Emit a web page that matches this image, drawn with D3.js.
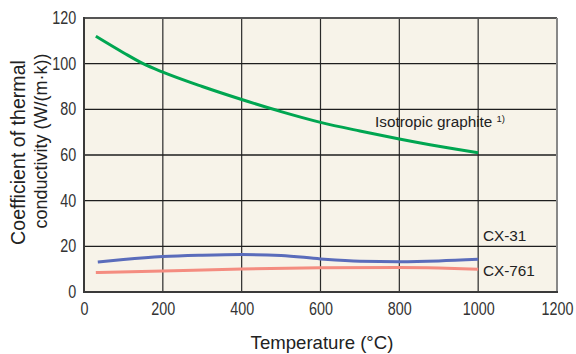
<!DOCTYPE html>
<html>
<head>
<meta charset="utf-8">
<script src="https://cdn.jsdelivr.net/npm/d3@7"></script>
<style>
  html, body { margin: 0; padding: 0; background: #ffffff; }
  svg { display: block; }
  .tick-label { font-family: "Liberation Sans", Arial, Helvetica, sans-serif; font-size: 17.5px; fill: #333; }
  .title { font-family: "Liberation Sans", Arial, Helvetica, sans-serif; font-size: 18.6px; fill: #222; }
  .series-label { font-family: "Liberation Sans", Arial, Helvetica, sans-serif; font-size: 15.3px; fill: #222; }
</style>
</head>
<body>
<svg id="chart" width="576" height="354"></svg>
<script>
// Thermal conductivity vs temperature
const xTicks = [0, 200, 400, 600, 800, 1000, 1200];
const yTicks = [0, 20, 40, 60, 80, 100, 120];

const graphiteTemp = [30, 100, 150, 200, 300, 400, 500, 600, 700, 800, 900, 1000];
const graphiteK    = [112, 104.8, 100, 96.3, 90, 84.3, 79, 74.3, 70.5, 67, 63.8, 61];

const cx31Temp = [35, 100, 200, 300, 400, 500, 600, 700, 800, 900, 1000];
const cx31K    = [13.1, 14.2, 15.5, 16.1, 16.4, 16.0, 14.5, 13.5, 13.3, 13.6, 14.3];

const cx761Temp = [30, 200, 400, 600, 800, 900, 1000];
const cx761K    = [8.5, 9.2, 10.1, 10.6, 10.7, 10.5, 10.0];

const seriesNames = ["Isotropic graphite", "CX-31", "CX-761"];
const seriesColors = ["#00a651", "#5a6cbb", "#f48c80"];

const svg = d3.select("#chart");
const plotL = 84, plotR = 557, plotT = 18, plotB = 292;

const x = d3.scaleLinear().domain([0, 1200]).range([plotL, plotR]);
const y = d3.scaleLinear().domain([0, 120]).range([plotB, plotT]);

// plot background
svg.append("rect")
  .attr("x", plotL).attr("y", plotT)
  .attr("width", plotR - plotL).attr("height", plotB - plotT)
  .attr("fill", "#f7f3e9");

// vertical grid lines
svg.append("g")
  .selectAll("line")
  .data(xTicks.filter(d => d > 0 && d < 1200))
  .join("line")
  .attr("x1", d => x(d)).attr("x2", d => x(d))
  .attr("y1", plotT).attr("y2", plotB)
  .attr("stroke", "#2a2a2a").attr("stroke-width", 1.2);

// horizontal grid lines
svg.append("g")
  .selectAll("line")
  .data(yTicks.filter(d => d > 0 && d < 120))
  .join("line")
  .attr("x1", plotL).attr("x2", plotR)
  .attr("y1", d => y(d)).attr("y2", d => y(d))
  .attr("stroke", "#1e1e1e").attr("stroke-width", 1.3);

// frame: top and right lighter, left and bottom darker
svg.append("line").attr("x1", plotL).attr("x2", plotR).attr("y1", plotT).attr("y2", plotT)
  .attr("stroke", "#555").attr("stroke-width", 2);
svg.append("line").attr("x1", plotR).attr("x2", plotR).attr("y1", plotT).attr("y2", plotB)
  .attr("stroke", "#888").attr("stroke-width", 2);
svg.append("line").attr("x1", plotL).attr("x2", plotL).attr("y1", plotT - 1).attr("y2", plotB + 1)
  .attr("stroke", "#3a3a3a").attr("stroke-width", 2);
svg.append("line").attr("x1", plotL - 1).attr("x2", plotR + 1).attr("y1", plotB).attr("y2", plotB)
  .attr("stroke", "#3a3a3a").attr("stroke-width", 2);

// axes (labels only); tick numerals are drawn horizontally condensed
const condense = 0.82;

const xAxis = d3.axisBottom(x).tickValues(xTicks).tickFormat(d3.format("d")).tickSize(0).tickPadding(10);
const gx = svg.append("g").attr("transform", `translate(0,${plotB})`).call(xAxis);
gx.select(".domain").remove();
gx.attr("font-family", null).attr("font-size", null);
gx.selectAll("text").attr("class", "tick-label").attr("fill", null)
  .attr("dy", "0.75em")
  .attr("transform", `scale(${condense},1)`);

const yAxis = d3.axisLeft(y).tickValues(yTicks).tickFormat(d3.format("d")).tickSize(0).tickPadding(9.5);
const gy = svg.append("g").attr("transform", `translate(${plotL},0)`).call(yAxis);
gy.select(".domain").remove();
gy.attr("font-family", null).attr("font-size", null);
gy.selectAll("text").attr("class", "tick-label").attr("fill", null)
  .attr("transform", `scale(${condense},1)`);

// series lines
const line = d3.line()
  .x(d => x(d[0]))
  .y(d => y(d[1]))
  .curve(d3.curveMonotoneX);

const series = [
  d3.zip(graphiteTemp, graphiteK),
  d3.zip(cx31Temp, cx31K),
  d3.zip(cx761Temp, cx761K)
];

svg.append("g")
  .selectAll("path")
  .data(series)
  .join("path")
  .attr("d", line)
  .attr("fill", "none")
  .attr("stroke", (d, i) => seriesColors[i])
  .attr("stroke-width", 3);

// series labels
svg.append("text").attr("class", "series-label")
  .attr("x", 375).attr("y", 126.5).text(seriesNames[0]);
svg.append("text").attr("class", "series-label")
  .attr("x", 496.5).attr("y", 121.5).style("font-size", "9.5px").text("1)");
svg.append("text").attr("class", "series-label")
  .attr("x", 483).attr("y", 241).text(seriesNames[1]);
svg.append("text").attr("class", "series-label")
  .attr("x", 483).attr("y", 276).text(seriesNames[2]);

// axis titles
svg.append("text").attr("class", "title")
  .attr("x", (plotL + plotR) / 2 + 1.5).attr("y", 349)
  .attr("text-anchor", "middle")
  .text("Temperature (°C)");

svg.append("text").attr("class", "title")
  .attr("transform", "translate(25,152.5) rotate(-90)")
  .attr("text-anchor", "middle")
  .style("font-size", "19.6px")
  .text("Coefficient of thermal");
svg.append("text").attr("class", "title")
  .attr("transform", "translate(46.5,141) rotate(-90)")
  .attr("text-anchor", "middle")
  .style("font-size", "18px")
  .text("conductivity (W/(m·k))");
</script>
</body>
</html>
